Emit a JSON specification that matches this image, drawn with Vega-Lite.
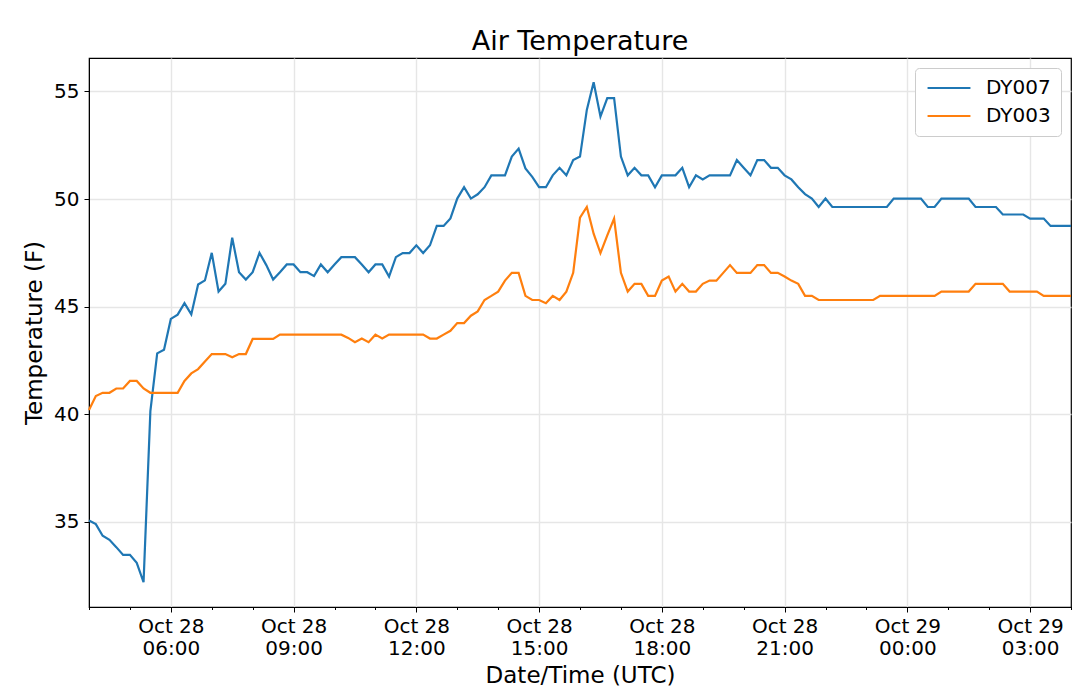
{
"$schema": "https://vega.github.io/schema/vega-lite/v6.json",
"width": 982,
"height": 549,
"autosize": "none",
"padding": {"left": 89, "top": 58, "right": 9, "bottom": 86},
"background": "white",
"title": {"text": "Air Temperature", "fontSize": 27, "font": "DejaVu Sans", "fontWeight": "normal", "color": "black", "anchor": "middle", "offset": 2},
"data": {"values": [
{"t":"2019-10-28T04:00:00Z","s":"DY007","v":35.07},{"t":"2019-10-28T04:10:00Z","s":"DY007","v":34.9},{"t":"2019-10-28T04:20:00Z","s":"DY007","v":34.36},{"t":"2019-10-28T04:30:00Z","s":"DY007","v":34.17},{"t":"2019-10-28T04:40:00Z","s":"DY007","v":33.83},{"t":"2019-10-28T04:50:00Z","s":"DY007","v":33.47},
{"t":"2019-10-28T05:00:00Z","s":"DY007","v":33.47},{"t":"2019-10-28T05:10:00Z","s":"DY007","v":33.1},{"t":"2019-10-28T05:20:00Z","s":"DY007","v":32.2},{"t":"2019-10-28T05:30:00Z","s":"DY007","v":40.15},{"t":"2019-10-28T05:40:00Z","s":"DY007","v":42.83},{"t":"2019-10-28T05:50:00Z","s":"DY007","v":43.0},
{"t":"2019-10-28T06:00:00Z","s":"DY007","v":44.43},{"t":"2019-10-28T06:10:00Z","s":"DY007","v":44.63},{"t":"2019-10-28T06:20:00Z","s":"DY007","v":45.16},{"t":"2019-10-28T06:30:00Z","s":"DY007","v":44.64},{"t":"2019-10-28T06:40:00Z","s":"DY007","v":46.03},{"t":"2019-10-28T06:50:00Z","s":"DY007","v":46.22},
{"t":"2019-10-28T07:00:00Z","s":"DY007","v":47.5},{"t":"2019-10-28T07:10:00Z","s":"DY007","v":45.7},{"t":"2019-10-28T07:20:00Z","s":"DY007","v":46.06},{"t":"2019-10-28T07:30:00Z","s":"DY007","v":48.2},{"t":"2019-10-28T07:40:00Z","s":"DY007","v":46.6},{"t":"2019-10-28T07:50:00Z","s":"DY007","v":46.26},
{"t":"2019-10-28T08:00:00Z","s":"DY007","v":46.6},{"t":"2019-10-28T08:10:00Z","s":"DY007","v":47.5},{"t":"2019-10-28T08:20:00Z","s":"DY007","v":46.93},{"t":"2019-10-28T08:30:00Z","s":"DY007","v":46.26},{"t":"2019-10-28T08:40:00Z","s":"DY007","v":46.6},{"t":"2019-10-28T08:50:00Z","s":"DY007","v":46.96},
{"t":"2019-10-28T09:00:00Z","s":"DY007","v":46.96},{"t":"2019-10-28T09:10:00Z","s":"DY007","v":46.6},{"t":"2019-10-28T09:20:00Z","s":"DY007","v":46.6},{"t":"2019-10-28T09:30:00Z","s":"DY007","v":46.42},{"t":"2019-10-28T09:40:00Z","s":"DY007","v":46.96},{"t":"2019-10-28T09:50:00Z","s":"DY007","v":46.6},
{"t":"2019-10-28T10:00:00Z","s":"DY007","v":46.96},{"t":"2019-10-28T10:10:00Z","s":"DY007","v":47.3},{"t":"2019-10-28T10:20:00Z","s":"DY007","v":47.3},{"t":"2019-10-28T10:30:00Z","s":"DY007","v":47.3},{"t":"2019-10-28T10:40:00Z","s":"DY007","v":46.96},{"t":"2019-10-28T10:50:00Z","s":"DY007","v":46.6},
{"t":"2019-10-28T11:00:00Z","s":"DY007","v":46.96},{"t":"2019-10-28T11:10:00Z","s":"DY007","v":46.96},{"t":"2019-10-28T11:20:00Z","s":"DY007","v":46.4},{"t":"2019-10-28T11:30:00Z","s":"DY007","v":47.3},{"t":"2019-10-28T11:40:00Z","s":"DY007","v":47.49},{"t":"2019-10-28T11:50:00Z","s":"DY007","v":47.49},
{"t":"2019-10-28T12:00:00Z","s":"DY007","v":47.85},{"t":"2019-10-28T12:10:00Z","s":"DY007","v":47.49},{"t":"2019-10-28T12:20:00Z","s":"DY007","v":47.85},{"t":"2019-10-28T12:30:00Z","s":"DY007","v":48.75},{"t":"2019-10-28T12:40:00Z","s":"DY007","v":48.75},{"t":"2019-10-28T12:50:00Z","s":"DY007","v":49.1},
{"t":"2019-10-28T13:00:00Z","s":"DY007","v":50.02},{"t":"2019-10-28T13:10:00Z","s":"DY007","v":50.55},{"t":"2019-10-28T13:20:00Z","s":"DY007","v":50.02},{"t":"2019-10-28T13:30:00Z","s":"DY007","v":50.22},{"t":"2019-10-28T13:40:00Z","s":"DY007","v":50.55},{"t":"2019-10-28T13:50:00Z","s":"DY007","v":51.1},
{"t":"2019-10-28T14:00:00Z","s":"DY007","v":51.1},{"t":"2019-10-28T14:10:00Z","s":"DY007","v":51.1},{"t":"2019-10-28T14:20:00Z","s":"DY007","v":51.97},{"t":"2019-10-28T14:30:00Z","s":"DY007","v":52.34},{"t":"2019-10-28T14:40:00Z","s":"DY007","v":51.42},{"t":"2019-10-28T14:50:00Z","s":"DY007","v":51.03},
{"t":"2019-10-28T15:00:00Z","s":"DY007","v":50.55},{"t":"2019-10-28T15:10:00Z","s":"DY007","v":50.55},{"t":"2019-10-28T15:20:00Z","s":"DY007","v":51.1},{"t":"2019-10-28T15:30:00Z","s":"DY007","v":51.45},{"t":"2019-10-28T15:40:00Z","s":"DY007","v":51.1},{"t":"2019-10-28T15:50:00Z","s":"DY007","v":51.81},
{"t":"2019-10-28T16:00:00Z","s":"DY007","v":51.97},{"t":"2019-10-28T16:10:00Z","s":"DY007","v":54.14},{"t":"2019-10-28T16:20:00Z","s":"DY007","v":55.42},{"t":"2019-10-28T16:30:00Z","s":"DY007","v":53.83},{"t":"2019-10-28T16:40:00Z","s":"DY007","v":54.69},{"t":"2019-10-28T16:50:00Z","s":"DY007","v":54.69},
{"t":"2019-10-28T17:00:00Z","s":"DY007","v":51.97},{"t":"2019-10-28T17:10:00Z","s":"DY007","v":51.1},{"t":"2019-10-28T17:20:00Z","s":"DY007","v":51.45},{"t":"2019-10-28T17:30:00Z","s":"DY007","v":51.1},{"t":"2019-10-28T17:40:00Z","s":"DY007","v":51.1},{"t":"2019-10-28T17:50:00Z","s":"DY007","v":50.55},
{"t":"2019-10-28T18:00:00Z","s":"DY007","v":51.1},{"t":"2019-10-28T18:10:00Z","s":"DY007","v":51.1},{"t":"2019-10-28T18:20:00Z","s":"DY007","v":51.1},{"t":"2019-10-28T18:30:00Z","s":"DY007","v":51.45},{"t":"2019-10-28T18:40:00Z","s":"DY007","v":50.55},{"t":"2019-10-28T18:50:00Z","s":"DY007","v":51.1},
{"t":"2019-10-28T19:00:00Z","s":"DY007","v":50.91},{"t":"2019-10-28T19:10:00Z","s":"DY007","v":51.1},{"t":"2019-10-28T19:20:00Z","s":"DY007","v":51.1},{"t":"2019-10-28T19:30:00Z","s":"DY007","v":51.1},{"t":"2019-10-28T19:40:00Z","s":"DY007","v":51.1},{"t":"2019-10-28T19:50:00Z","s":"DY007","v":51.81},
{"t":"2019-10-28T20:00:00Z","s":"DY007","v":51.45},{"t":"2019-10-28T20:10:00Z","s":"DY007","v":51.1},{"t":"2019-10-28T20:20:00Z","s":"DY007","v":51.81},{"t":"2019-10-28T20:30:00Z","s":"DY007","v":51.81},{"t":"2019-10-28T20:40:00Z","s":"DY007","v":51.45},{"t":"2019-10-28T20:50:00Z","s":"DY007","v":51.45},
{"t":"2019-10-28T21:00:00Z","s":"DY007","v":51.1},{"t":"2019-10-28T21:10:00Z","s":"DY007","v":50.91},{"t":"2019-10-28T21:20:00Z","s":"DY007","v":50.55},{"t":"2019-10-28T21:30:00Z","s":"DY007","v":50.23},{"t":"2019-10-28T21:40:00Z","s":"DY007","v":50.02},{"t":"2019-10-28T21:50:00Z","s":"DY007","v":49.63},
{"t":"2019-10-28T22:00:00Z","s":"DY007","v":50.02},{"t":"2019-10-28T22:10:00Z","s":"DY007","v":49.63},{"t":"2019-10-28T22:20:00Z","s":"DY007","v":49.63},{"t":"2019-10-28T22:30:00Z","s":"DY007","v":49.63},{"t":"2019-10-28T22:40:00Z","s":"DY007","v":49.63},{"t":"2019-10-28T22:50:00Z","s":"DY007","v":49.63},
{"t":"2019-10-28T23:00:00Z","s":"DY007","v":49.63},{"t":"2019-10-28T23:10:00Z","s":"DY007","v":49.63},{"t":"2019-10-28T23:20:00Z","s":"DY007","v":49.63},{"t":"2019-10-28T23:30:00Z","s":"DY007","v":49.63},{"t":"2019-10-28T23:40:00Z","s":"DY007","v":50.02},{"t":"2019-10-28T23:50:00Z","s":"DY007","v":50.02},
{"t":"2019-10-29T00:00:00Z","s":"DY007","v":50.02},{"t":"2019-10-29T00:10:00Z","s":"DY007","v":50.02},{"t":"2019-10-29T00:20:00Z","s":"DY007","v":50.02},{"t":"2019-10-29T00:30:00Z","s":"DY007","v":49.63},{"t":"2019-10-29T00:40:00Z","s":"DY007","v":49.63},{"t":"2019-10-29T00:50:00Z","s":"DY007","v":50.02},
{"t":"2019-10-29T01:00:00Z","s":"DY007","v":50.02},{"t":"2019-10-29T01:10:00Z","s":"DY007","v":50.02},{"t":"2019-10-29T01:20:00Z","s":"DY007","v":50.02},{"t":"2019-10-29T01:30:00Z","s":"DY007","v":50.02},{"t":"2019-10-29T01:40:00Z","s":"DY007","v":49.63},{"t":"2019-10-29T01:50:00Z","s":"DY007","v":49.63},
{"t":"2019-10-29T02:00:00Z","s":"DY007","v":49.63},{"t":"2019-10-29T02:10:00Z","s":"DY007","v":49.63},{"t":"2019-10-29T02:20:00Z","s":"DY007","v":49.28},{"t":"2019-10-29T02:30:00Z","s":"DY007","v":49.28},{"t":"2019-10-29T02:40:00Z","s":"DY007","v":49.28},{"t":"2019-10-29T02:50:00Z","s":"DY007","v":49.28},
{"t":"2019-10-29T03:00:00Z","s":"DY007","v":49.09},{"t":"2019-10-29T03:10:00Z","s":"DY007","v":49.09},{"t":"2019-10-29T03:20:00Z","s":"DY007","v":49.09},{"t":"2019-10-29T03:30:00Z","s":"DY007","v":48.75},{"t":"2019-10-29T03:40:00Z","s":"DY007","v":48.75},{"t":"2019-10-29T03:50:00Z","s":"DY007","v":48.75},
{"t":"2019-10-29T04:00:00Z","s":"DY007","v":48.75},
{"t":"2019-10-28T04:00:00Z","s":"DY003","v":40.2},{"t":"2019-10-28T04:10:00Z","s":"DY003","v":40.85},{"t":"2019-10-28T04:20:00Z","s":"DY003","v":41.0},{"t":"2019-10-28T04:30:00Z","s":"DY003","v":41.0},{"t":"2019-10-28T04:40:00Z","s":"DY003","v":41.2},{"t":"2019-10-28T04:50:00Z","s":"DY003","v":41.2},
{"t":"2019-10-28T05:00:00Z","s":"DY003","v":41.55},{"t":"2019-10-28T05:10:00Z","s":"DY003","v":41.55},{"t":"2019-10-28T05:20:00Z","s":"DY003","v":41.2},{"t":"2019-10-28T05:30:00Z","s":"DY003","v":41.0},{"t":"2019-10-28T05:40:00Z","s":"DY003","v":41.0},{"t":"2019-10-28T05:50:00Z","s":"DY003","v":41.0},
{"t":"2019-10-28T06:00:00Z","s":"DY003","v":41.0},{"t":"2019-10-28T06:10:00Z","s":"DY003","v":41.0},{"t":"2019-10-28T06:20:00Z","s":"DY003","v":41.55},{"t":"2019-10-28T06:30:00Z","s":"DY003","v":41.9},{"t":"2019-10-28T06:40:00Z","s":"DY003","v":42.1},{"t":"2019-10-28T06:50:00Z","s":"DY003","v":42.45},
{"t":"2019-10-28T07:00:00Z","s":"DY003","v":42.8},{"t":"2019-10-28T07:10:00Z","s":"DY003","v":42.8},{"t":"2019-10-28T07:20:00Z","s":"DY003","v":42.8},{"t":"2019-10-28T07:30:00Z","s":"DY003","v":42.65},{"t":"2019-10-28T07:40:00Z","s":"DY003","v":42.8},{"t":"2019-10-28T07:50:00Z","s":"DY003","v":42.8},
{"t":"2019-10-28T08:00:00Z","s":"DY003","v":43.5},{"t":"2019-10-28T08:10:00Z","s":"DY003","v":43.5},{"t":"2019-10-28T08:20:00Z","s":"DY003","v":43.5},{"t":"2019-10-28T08:30:00Z","s":"DY003","v":43.5},{"t":"2019-10-28T08:40:00Z","s":"DY003","v":43.7},{"t":"2019-10-28T08:50:00Z","s":"DY003","v":43.7},
{"t":"2019-10-28T09:00:00Z","s":"DY003","v":43.7},{"t":"2019-10-28T09:10:00Z","s":"DY003","v":43.7},{"t":"2019-10-28T09:20:00Z","s":"DY003","v":43.7},{"t":"2019-10-28T09:30:00Z","s":"DY003","v":43.7},{"t":"2019-10-28T09:40:00Z","s":"DY003","v":43.7},{"t":"2019-10-28T09:50:00Z","s":"DY003","v":43.7},
{"t":"2019-10-28T10:00:00Z","s":"DY003","v":43.7},{"t":"2019-10-28T10:10:00Z","s":"DY003","v":43.7},{"t":"2019-10-28T10:20:00Z","s":"DY003","v":43.55},{"t":"2019-10-28T10:30:00Z","s":"DY003","v":43.35},{"t":"2019-10-28T10:40:00Z","s":"DY003","v":43.52},{"t":"2019-10-28T10:50:00Z","s":"DY003","v":43.35},
{"t":"2019-10-28T11:00:00Z","s":"DY003","v":43.7},{"t":"2019-10-28T11:10:00Z","s":"DY003","v":43.52},{"t":"2019-10-28T11:20:00Z","s":"DY003","v":43.7},{"t":"2019-10-28T11:30:00Z","s":"DY003","v":43.7},{"t":"2019-10-28T11:40:00Z","s":"DY003","v":43.7},{"t":"2019-10-28T11:50:00Z","s":"DY003","v":43.7},
{"t":"2019-10-28T12:00:00Z","s":"DY003","v":43.7},{"t":"2019-10-28T12:10:00Z","s":"DY003","v":43.7},{"t":"2019-10-28T12:20:00Z","s":"DY003","v":43.52},{"t":"2019-10-28T12:30:00Z","s":"DY003","v":43.52},{"t":"2019-10-28T12:40:00Z","s":"DY003","v":43.7},{"t":"2019-10-28T12:50:00Z","s":"DY003","v":43.88},
{"t":"2019-10-28T13:00:00Z","s":"DY003","v":44.24},{"t":"2019-10-28T13:10:00Z","s":"DY003","v":44.24},{"t":"2019-10-28T13:20:00Z","s":"DY003","v":44.58},{"t":"2019-10-28T13:30:00Z","s":"DY003","v":44.78},{"t":"2019-10-28T13:40:00Z","s":"DY003","v":45.31},{"t":"2019-10-28T13:50:00Z","s":"DY003","v":45.5},
{"t":"2019-10-28T14:00:00Z","s":"DY003","v":45.7},{"t":"2019-10-28T14:10:00Z","s":"DY003","v":46.21},{"t":"2019-10-28T14:20:00Z","s":"DY003","v":46.57},{"t":"2019-10-28T14:30:00Z","s":"DY003","v":46.57},{"t":"2019-10-28T14:40:00Z","s":"DY003","v":45.5},{"t":"2019-10-28T14:50:00Z","s":"DY003","v":45.31},
{"t":"2019-10-28T15:00:00Z","s":"DY003","v":45.31},{"t":"2019-10-28T15:10:00Z","s":"DY003","v":45.16},{"t":"2019-10-28T15:20:00Z","s":"DY003","v":45.5},{"t":"2019-10-28T15:30:00Z","s":"DY003","v":45.31},{"t":"2019-10-28T15:40:00Z","s":"DY003","v":45.7},{"t":"2019-10-28T15:50:00Z","s":"DY003","v":46.57},
{"t":"2019-10-28T16:00:00Z","s":"DY003","v":49.14},{"t":"2019-10-28T16:10:00Z","s":"DY003","v":49.63},{"t":"2019-10-28T16:20:00Z","s":"DY003","v":48.39},{"t":"2019-10-28T16:30:00Z","s":"DY003","v":47.49},{"t":"2019-10-28T16:40:00Z","s":"DY003","v":48.31},{"t":"2019-10-28T16:50:00Z","s":"DY003","v":49.09},
{"t":"2019-10-28T17:00:00Z","s":"DY003","v":46.57},{"t":"2019-10-28T17:10:00Z","s":"DY003","v":45.7},{"t":"2019-10-28T17:20:00Z","s":"DY003","v":46.06},{"t":"2019-10-28T17:30:00Z","s":"DY003","v":46.06},{"t":"2019-10-28T17:40:00Z","s":"DY003","v":45.5},{"t":"2019-10-28T17:50:00Z","s":"DY003","v":45.5},
{"t":"2019-10-28T18:00:00Z","s":"DY003","v":46.21},{"t":"2019-10-28T18:10:00Z","s":"DY003","v":46.4},{"t":"2019-10-28T18:20:00Z","s":"DY003","v":45.7},{"t":"2019-10-28T18:30:00Z","s":"DY003","v":46.06},{"t":"2019-10-28T18:40:00Z","s":"DY003","v":45.7},{"t":"2019-10-28T18:50:00Z","s":"DY003","v":45.7},
{"t":"2019-10-28T19:00:00Z","s":"DY003","v":46.06},{"t":"2019-10-28T19:10:00Z","s":"DY003","v":46.21},{"t":"2019-10-28T19:20:00Z","s":"DY003","v":46.21},{"t":"2019-10-28T19:30:00Z","s":"DY003","v":46.57},{"t":"2019-10-28T19:40:00Z","s":"DY003","v":46.93},{"t":"2019-10-28T19:50:00Z","s":"DY003","v":46.57},
{"t":"2019-10-28T20:00:00Z","s":"DY003","v":46.57},{"t":"2019-10-28T20:10:00Z","s":"DY003","v":46.57},{"t":"2019-10-28T20:20:00Z","s":"DY003","v":46.93},{"t":"2019-10-28T20:30:00Z","s":"DY003","v":46.93},{"t":"2019-10-28T20:40:00Z","s":"DY003","v":46.57},{"t":"2019-10-28T20:50:00Z","s":"DY003","v":46.57},
{"t":"2019-10-28T21:00:00Z","s":"DY003","v":46.4},{"t":"2019-10-28T21:10:00Z","s":"DY003","v":46.21},{"t":"2019-10-28T21:20:00Z","s":"DY003","v":46.06},{"t":"2019-10-28T21:30:00Z","s":"DY003","v":45.5},{"t":"2019-10-28T21:40:00Z","s":"DY003","v":45.5},{"t":"2019-10-28T21:50:00Z","s":"DY003","v":45.31},
{"t":"2019-10-28T22:00:00Z","s":"DY003","v":45.31},{"t":"2019-10-28T22:10:00Z","s":"DY003","v":45.31},{"t":"2019-10-28T22:20:00Z","s":"DY003","v":45.31},{"t":"2019-10-28T22:30:00Z","s":"DY003","v":45.31},{"t":"2019-10-28T22:40:00Z","s":"DY003","v":45.31},{"t":"2019-10-28T22:50:00Z","s":"DY003","v":45.31},
{"t":"2019-10-28T23:00:00Z","s":"DY003","v":45.31},{"t":"2019-10-28T23:10:00Z","s":"DY003","v":45.31},{"t":"2019-10-28T23:20:00Z","s":"DY003","v":45.5},{"t":"2019-10-28T23:30:00Z","s":"DY003","v":45.5},{"t":"2019-10-28T23:40:00Z","s":"DY003","v":45.5},{"t":"2019-10-28T23:50:00Z","s":"DY003","v":45.5},
{"t":"2019-10-29T00:00:00Z","s":"DY003","v":45.5},{"t":"2019-10-29T00:10:00Z","s":"DY003","v":45.5},{"t":"2019-10-29T00:20:00Z","s":"DY003","v":45.5},{"t":"2019-10-29T00:30:00Z","s":"DY003","v":45.5},{"t":"2019-10-29T00:40:00Z","s":"DY003","v":45.5},{"t":"2019-10-29T00:50:00Z","s":"DY003","v":45.7},
{"t":"2019-10-29T01:00:00Z","s":"DY003","v":45.7},{"t":"2019-10-29T01:10:00Z","s":"DY003","v":45.7},{"t":"2019-10-29T01:20:00Z","s":"DY003","v":45.7},{"t":"2019-10-29T01:30:00Z","s":"DY003","v":45.7},{"t":"2019-10-29T01:40:00Z","s":"DY003","v":46.06},{"t":"2019-10-29T01:50:00Z","s":"DY003","v":46.06},
{"t":"2019-10-29T02:00:00Z","s":"DY003","v":46.06},{"t":"2019-10-29T02:10:00Z","s":"DY003","v":46.06},{"t":"2019-10-29T02:20:00Z","s":"DY003","v":46.06},{"t":"2019-10-29T02:30:00Z","s":"DY003","v":45.7},{"t":"2019-10-29T02:40:00Z","s":"DY003","v":45.7},{"t":"2019-10-29T02:50:00Z","s":"DY003","v":45.7},
{"t":"2019-10-29T03:00:00Z","s":"DY003","v":45.7},{"t":"2019-10-29T03:10:00Z","s":"DY003","v":45.7},{"t":"2019-10-29T03:20:00Z","s":"DY003","v":45.5},{"t":"2019-10-29T03:30:00Z","s":"DY003","v":45.5},{"t":"2019-10-29T03:40:00Z","s":"DY003","v":45.5},{"t":"2019-10-29T03:50:00Z","s":"DY003","v":45.5},
{"t":"2019-10-29T04:00:00Z","s":"DY003","v":45.5}
]},
"mark": {"type": "line", "strokeWidth": 2.2},
"encoding": {
  "x": {"field": "t", "type": "temporal",
    "scale": {"nice": false},
    "axis": {"title": "Date/Time (UTC)", "tickCount": 24,
      "labelExpr": "hours(datum.value) % 3 == 0 ? [timeFormat(datum.value, '%b %d'), timeFormat(datum.value, '%H:%M')] : ''",
      "labelFlush": false,
      "tickSize": {"condition": {"test": "hours(datum.value) % 3 != 0", "value": 2.5}, "value": 5},
      "gridOpacity": {"condition": {"test": "hours(datum.value) % 3 != 0", "value": 0}, "value": 1},
      "labelFontSize": 20, "labelPadding": 4, "titlePadding": 6}},
  "y": {"field": "v", "type": "quantitative",
    "scale": {"domain": [31.05, 56.55], "nice": false, "zero": false},
    "axis": {"title": "Temperature (F)", "values": [35, 40, 45, 50, 55], "tickSize": 5, "labelPadding": 5, "labelFontSize": 20, "titlePadding": 7}},
  "color": {"field": "s", "type": "nominal",
    "scale": {"domain": ["DY007", "DY003"], "range": ["#1f77b4", "#ff7f0e"]},
    "legend": {"title": null, "orient": "top-right", "offset": 10, "padding": 10, "strokeColor": "#cccccc", "fillColor": "white", "cornerRadius": 4,
      "labelFontSize": 20, "labelColor": "black",
      "symbolType": "M-4,0H4", "symbolSize": 115, "symbolStrokeWidth": 2.2, "symbolOffset": 14, "labelOffset": 27, "rowPadding": 8}}
},
"config": {
  "font": "DejaVu Sans",
  "view": {"stroke": "black", "strokeWidth": 1.2},
  "axis": {"labelColor": "black", "titleColor": "black", "titleFontSize": 23, "titleFontWeight": "normal",
    "domainColor": "black", "tickColor": "black", "gridColor": "#e6e6e6", "gridWidth": 1.4}
}
}
